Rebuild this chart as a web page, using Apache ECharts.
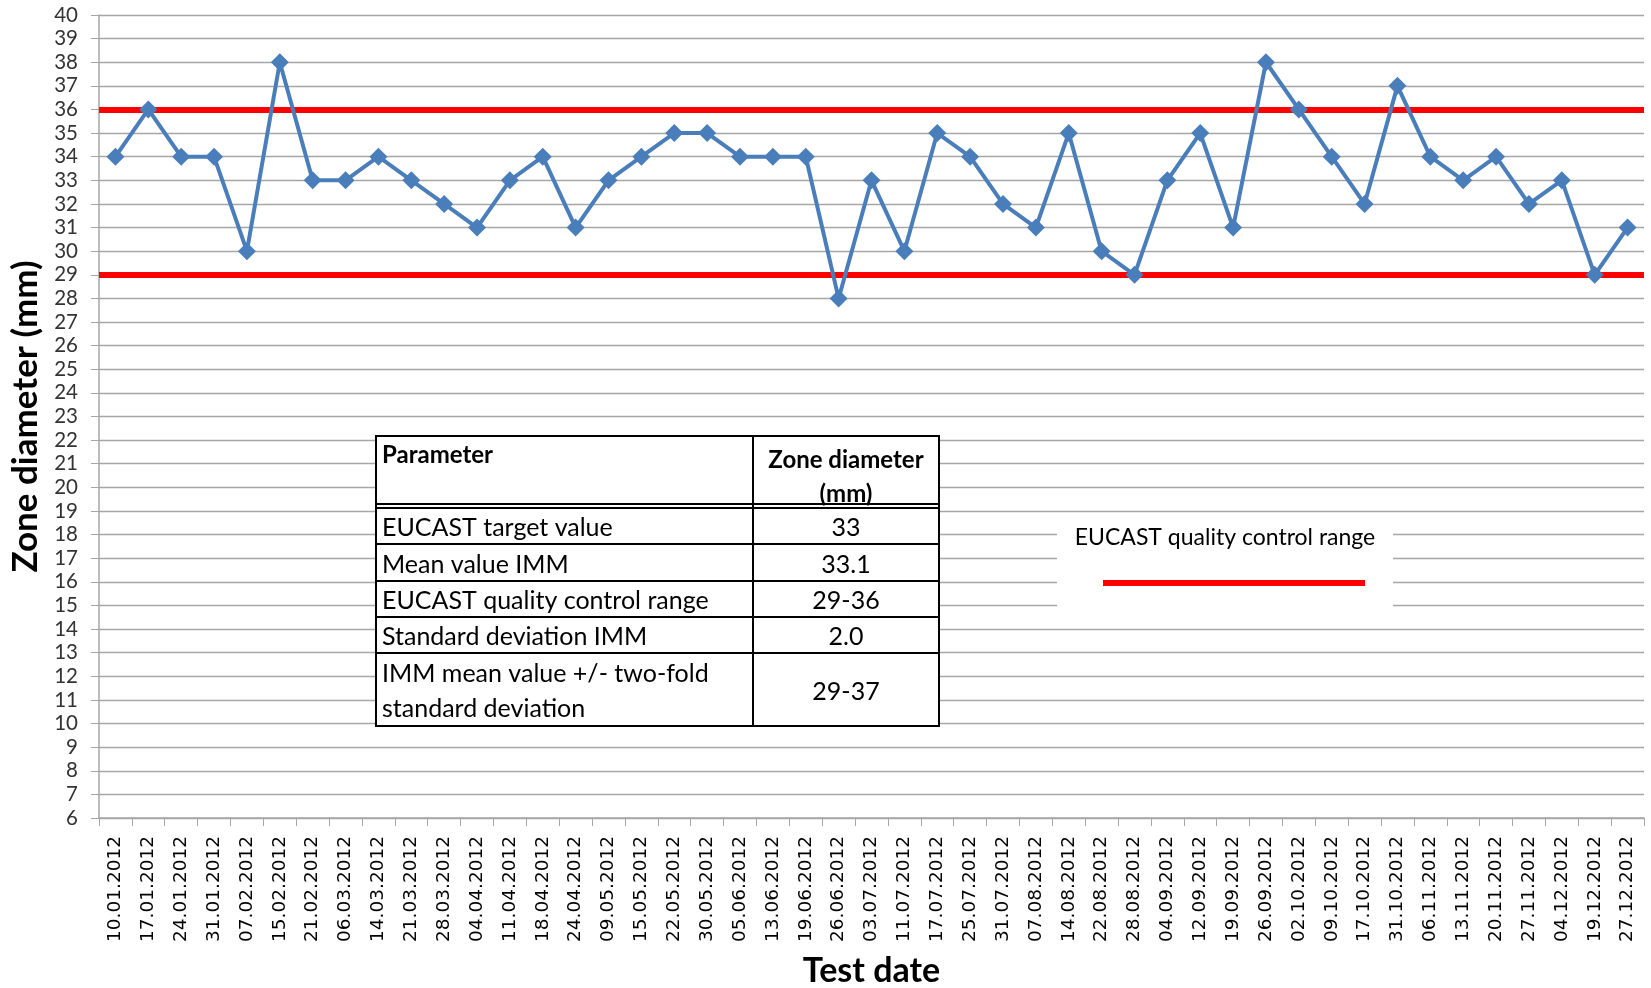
<!DOCTYPE html>
<html>
<head>
<meta charset="utf-8">
<script src="https://cdn.jsdelivr.net/npm/echarts@6/dist/echarts.min.js"></script>
<style>
html,body{margin:0;padding:0;background:#fff;}
#chart{width:1651px;height:988px;}
</style>
</head>
<body>
<div id="chart"></div>
<script>
const categories = ['10.01.2012','17.01.2012','24.01.2012','31.01.2012','07.02.2012','15.02.2012','21.02.2012','06.03.2012','14.03.2012','21.03.2012','28.03.2012','04.04.2012','11.04.2012','18.04.2012','24.04.2012','09.05.2012','15.05.2012','22.05.2012','30.05.2012','05.06.2012','13.06.2012','19.06.2012','26.06.2012','03.07.2012','11.07.2012','17.07.2012','25.07.2012','31.07.2012','07.08.2012','14.08.2012','22.08.2012','28.08.2012','04.09.2012','12.09.2012','19.09.2012','26.09.2012','02.10.2012','09.10.2012','17.10.2012','31.10.2012','06.11.2012','13.11.2012','20.11.2012','27.11.2012','04.12.2012','19.12.2012','27.12.2012'];
const zoneDiameter = [34,36,34,34,30,38,33,33,34,33,32,31,33,34,31,33,34,35,35,34,34,34,28,33,30,35,34,32,31,35,30,29,33,35,31,38,36,34,32,37,34,33,34,32,33,29,31];
const qcRange = [29, 36];
const yMin = 6, yMax = 40, yInterval = 1;
const tableHeader = ['Parameter', 'Zone diameter\n(mm)'];
const tableParams = ['EUCAST target value','Mean value IMM','EUCAST quality control range','Standard deviation IMM','IMM mean value +/- two-fold\nstandard deviation'];
const tableValues = ['33','33.1','29-36','2.0','29-37'];
const legendLabel = 'EUCAST quality control range';

const chart = echarts.init(document.getElementById('chart'), null, {renderer:'canvas'});

// table layout
const tX0 = 376, tXm = 753, tX1 = 939;
const rowY = [436, 504, 508, 544, 581, 617, 653, 726];
const bodyTops = [508, 544, 581, 617, 653];
const bodyBots = [544, 581, 617, 653, 726];
const tFont = 'Lato';
const tSize = 25;
const graphics = [];
graphics.push({type:'rect', shape:{x:tX0, y:rowY[0], width:tX1-tX0, height:rowY[7]-rowY[0]}, style:{fill:'#fff', stroke:'#000', lineWidth:2}, z:100});
const hLines = [504, 508, 544, 581, 617, 653];
hLines.forEach(y => graphics.push({type:'line', shape:{x1:tX0, y1:y, x2:tX1, y2:y}, style:{stroke:'#000', lineWidth:2}, z:101}));
graphics.push({type:'line', shape:{x1:tXm, y1:rowY[0], x2:tXm, y2:rowY[7]}, style:{stroke:'#000', lineWidth:2}, z:101});
graphics.push({type:'text', x:tX0+6, y:rowY[0]+7, style:{text:tableHeader[0], font:'bold 24px '+tFont, fill:'#000', textAlign:'left', textVerticalAlign:'top'}, z:102});
graphics.push({type:'text', x:(tXm+tX1)/2, y:rowY[0]+7, style:{text:tableHeader[1], font:'bold 24px '+tFont, fill:'#000', textAlign:'center', textVerticalAlign:'top', lineHeight:34}, z:102});
tableParams.forEach((p,i) => {
  const cy = (bodyTops[i]+bodyBots[i])/2 + 2;
  graphics.push({type:'text', x:tX0+6, y:cy, style:{text:p, font:tSize+'px '+tFont, fill:'#000', textAlign:'left', textVerticalAlign:'middle', lineHeight:35}, z:102});
  graphics.push({type:'text', x:(tXm+tX1)/2, y:cy, style:{text:tableValues[i], font:tSize+'px '+tFont, fill:'#000', textAlign:'center', textVerticalAlign:'middle'}, z:102});
});
// legend box
graphics.push({type:'rect', shape:{x:1057, y:521, width:336, height:90}, style:{fill:'#fff'}, z:100});
graphics.push({type:'text', x:1225, y:538, style:{text:legendLabel, font:'23px '+tFont, fill:'#000', textAlign:'center', textVerticalAlign:'middle'}, z:102});
graphics.push({type:'line', shape:{x1:1103, y1:583, x2:1365, y2:583}, style:{stroke:'#ff0000', lineWidth:6}, z:102});

chart.setOption({
  animation:false,
  backgroundColor:'#fff',
  grid:{left:99, right:7, top:15, bottom:170, containLabel:false, outerBoundsMode:'none'},
  xAxis:{
    type:'category', data:categories, boundaryGap:true,
    name:'Test date', nameLocation:'middle', nameGap:136,
    nameTextStyle:{fontFamily:'Lato', fontWeight:'bold', fontSize:34, color:'#000'},
    axisLine:{lineStyle:{color:'#a6a6a6', width:1.5}},
    axisTick:{show:true, length:8, alignWithLabel:false, interval:0, lineStyle:{color:'#a6a6a6'}},
    axisLabel:{rotate:90, interval:0, margin:18, fontFamily:'DejaVu Sans', fontSize:18.5, color:'#000'},
    splitLine:{show:false}
  },
  yAxis:{
    type:'value', min:yMin, max:yMax, interval:yInterval,
    name:'Zone diameter (mm)', nameLocation:'middle', nameGap:54,
    nameTextStyle:{fontFamily:'Lato', fontWeight:'bold', fontSize:35, color:'#000'},
    axisLine:{show:true, lineStyle:{color:'#a6a6a6', width:1.5}},
    axisTick:{show:true, length:8, lineStyle:{color:'#a6a6a6'}},
    axisLabel:{margin:21, fontFamily:'Lato', fontSize:20.5, color:'#333'},
    splitLine:{show:true, lineStyle:{color:'#a6a6a6', width:1.3}}
  },
  series:[{
    name:'Zone diameter', type:'line', data:zoneDiameter,
    symbol:'diamond', symbolSize:18,
    lineStyle:{color:'#4A7EBB', width:4},
    itemStyle:{color:'#4A7EBB'},
    z:5,
    markLine:{
      silent:true, symbol:['none','none'], label:{show:false},
      lineStyle:{color:'#ff0000', width:6, type:'solid'},
      data: qcRange.map(v => ({yAxis:v})),
      z:4
    }
  }],
  graphic:graphics
});
</script>
</body>
</html>
